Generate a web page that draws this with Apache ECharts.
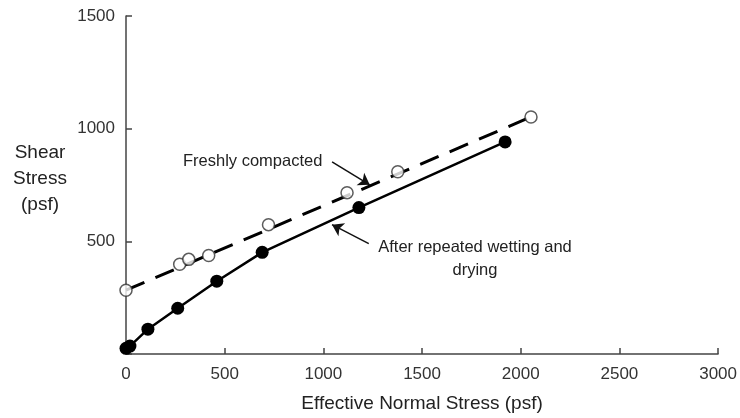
<!DOCTYPE html>
<html>
<head>
<meta charset="utf-8">
<script src="https://cdn.jsdelivr.net/npm/echarts@6/dist/echarts.min.js"></script>
<style>
  html, body { margin: 0; padding: 0; background: #fff; }
  #chart { width: 740px; height: 418px; }
</style>
</head>
<body>
<div id="chart"></div>
<script>
// open circles - freshly compacted
var freshX = [0, 272, 318, 419, 722, 1120, 1377, 2052];
var freshY = [283, 398, 420, 437, 574, 716, 809, 1052];
// dashed fit line for freshly compacted
var fitX = [0, 2052];
var fitY = [283, 1052];
// filled circles - after repeated wetting and drying
var wetX = [0, 20, 111, 262, 460, 690, 1180, 1921];
var wetY = [25, 35, 110, 203, 323, 451, 650, 941];

var xTicks = [0, 500, 1000, 1500, 2000, 2500, 3000];
var yTicks = [500, 1000, 1500];

// annotation arrows [tail, head] in data units
var freshArrow = [[1044, 853], [1235, 751]];
var wetArrow = [[1230, 490], [1044, 574]];

function pairs(xs, ys) {
    var out = [];
    for (var i = 0; i < xs.length; i++) {
        out.push([xs[i], ys[i]]);
    }
    return out;
}

var font = '"Liberation Sans", Arial, sans-serif';
var myChart = echarts.init(document.getElementById('chart'));

var option = {
    animation: false,
    grid: { left: 126, right: 20, top: 16, bottom: 64 },
    xAxis: {
        type: 'value',
        min: 0, max: 3000, interval: 500,
        name: 'Effective Normal Stress (psf)',
        nameLocation: 'middle',
        nameGap: 40,
        nameTextStyle: { fontFamily: font, fontSize: 19, color: '#222' },
        axisLine: { lineStyle: { color: '#444', width: 1.5 } },
        axisTick: { inside: true, length: 6, lineStyle: { color: '#444', width: 1.5 } },
        axisLabel: { fontFamily: font, fontSize: 17, color: '#333', margin: 12,
            formatter: function (v) { return xTicks.indexOf(v) >= 0 ? v : ''; } },
        splitLine: { show: false }
    },
    yAxis: {
        type: 'value',
        min: 0, max: 1500, interval: 500,
        axisLine: { show: true, lineStyle: { color: '#444', width: 1.5 } },
        axisTick: { show: true, inside: true, length: 6, lineStyle: { color: '#444', width: 1.5 } },
        axisLabel: { fontFamily: font, fontSize: 17, color: '#333', margin: 11,
            formatter: function (v) { return yTicks.indexOf(v) >= 0 ? v : ''; } },
        splitLine: { show: false }
    },
    graphic: [
        {
            type: 'text', x: 40, y: 140,
            style: { text: 'Shear\nStress\n(psf)', font: '19px ' + font, fill: '#222',
                     align: 'center', lineHeight: 26 }
        },
        {
            type: 'text', x: 183, y: 153,
            style: { text: 'Freshly compacted', font: '16.5px ' + font, fill: '#222' }
        },
        {
            type: 'text', x: 475, y: 236,
            style: { text: 'After repeated wetting and\ndrying', font: '16.5px ' + font,
                     fill: '#222', align: 'center', lineHeight: 23 }
        }
    ],
    series: [
        {
            name: 'fit',
            type: 'line',
            data: pairs(fitX, fitY),
            showSymbol: false,
            lineStyle: { color: '#000', width: 3, type: [20, 12] },
            z: 2,
            markLine: {
                silent: true,
                symbol: ['none', 'arrow'],
                symbolSize: 11,
                label: { show: false },
                lineStyle: { color: '#111', width: 1.5, type: 'solid' },
                data: [
                    [{ coord: freshArrow[0] }, { coord: freshArrow[1] }],
                    [{ coord: wetArrow[0] }, { coord: wetArrow[1] }]
                ]
            }
        },
        {
            name: 'Freshly compacted',
            type: 'scatter',
            data: pairs(freshX, freshY),
            symbol: 'circle',
            symbolSize: 12,
            itemStyle: { color: '#fff', borderColor: '#333', borderWidth: 1.5 },
            z: 4
        },
        {
            name: 'After repeated wetting and drying',
            type: 'line',
            data: pairs(wetX, wetY),
            symbol: 'circle',
            symbolSize: 13,
            showAllSymbol: true,
            lineStyle: { color: '#000', width: 2.5 },
            itemStyle: { color: '#000' },
            z: 3
        }
    ]
};

myChart.setOption(option, true);
</script>
</body>
</html>
